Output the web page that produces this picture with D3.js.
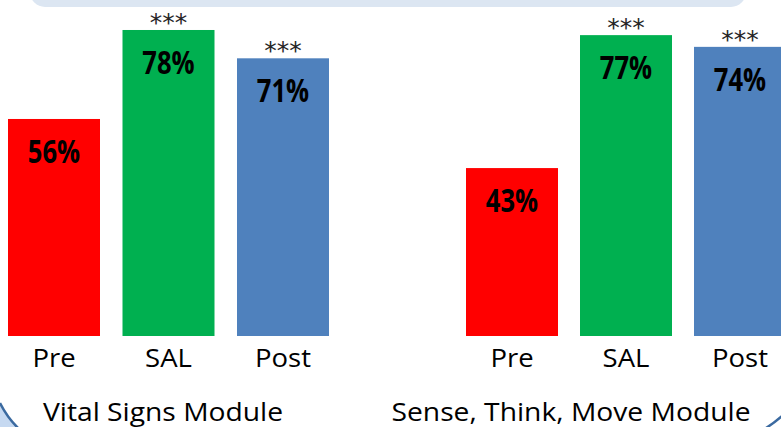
<!DOCTYPE html>
<html>
<head>
<meta charset="utf-8">
<script src="https://cdn.jsdelivr.net/npm/d3@7"></script>
<style>
  body { margin: 0; background: #fff; }
  svg { display: block; }
</style>
</head>
<body>
<div class="chart"></div>
<script>
// data
var categories = ["Pre", "SAL", "Post"];
var vitalValues = [56, 78, 71];
var senseValues = [43, 77, 74];
var sigMarks = ["", "***", "***"];
var moduleTitles = ["Vital Signs Module", "Sense, Think, Move Module"];

var colors = { "Pre": "#ff0000", "SAL": "#00b050", "Post": "#4f81bd" };

var width = 781, height = 427;
var plotBottom = 336;

// the two panels were pasted side by side, each with its own scale
var panels = [
  { values: vitalValues, title: moduleTitles[0], xRange: [8, 329], pad: 0.1965, yZero: 345.5, pxPerPct: 4.045, titleX: 163 },
  { values: senseValues, title: moduleTitles[1], xRange: [466, 786], pad: 0.193, yZero: 336.2, pxPerPct: 3.91, titleX: 571 }
];

var svg = d3.select(".chart").append("svg")
  .attr("width", width)
  .attr("height", height);

// light blue banner peeking in at the top
svg.append("rect")
  .attr("x", 30).attr("y", -30)
  .attr("width", 716).attr("height", 37)
  .attr("rx", 15)
  .attr("fill", "#dce6f2");

// corners of the outer frame
svg.append("path")
  .attr("d", "M0,403 Q7,417 18,428 L0,428 Z")
  .attr("fill", "#c6d9f1");
svg.append("path")
  .attr("d", "M0,403 Q7,417 18,428")
  .attr("fill", "none")
  .attr("stroke", "#3b6aa0")
  .attr("stroke-width", 2.5);
svg.append("path")
  .attr("d", "M766,428 Q774,423 782,416")
  .attr("fill", "none")
  .attr("stroke", "#3b6aa0")
  .attr("stroke-width", 2.5);

// plain text is a bit wider in the original, stretch it a little
function stretched(sel, sx) {
  return sel.attr("transform", function() {
    var t = d3.select(this);
    return "translate(" + t.attr("data-x") + "," + t.attr("data-y") + ") scale(" + sx + ",1)";
  });
}

panels.forEach(function(p) {
  var x = d3.scaleBand()
    .domain(categories)
    .range(p.xRange)
    .paddingInner(p.pad)
    .paddingOuter(0);

  var y = d3.scaleLinear()
    .domain([0, 80])
    .range([p.yZero, p.yZero - 80 * p.pxPerPct]);

  var rows = categories.map(function(c, i) {
    return { cat: c, value: p.values[i], sig: sigMarks[i] };
  });

  var g = svg.append("g");

  g.selectAll("rect")
    .data(rows)
    .enter()
    .append("rect")
    .attr("x", d => x(d.cat))
    .attr("y", d => y(d.value))
    .attr("width", x.bandwidth())
    .attr("height", d => Math.min(y(0), plotBottom) - y(d.value))
    .attr("fill", d => colors[d.cat]);

  // value labels inside the bars
  g.selectAll(".val")
    .data(rows)
    .enter()
    .append("text")
    .attr("class", "val")
    .attr("transform", d => "translate(" + (x(d.cat) + x.bandwidth() / 2) + "," + (y(d.value) + 44) + ") scale(0.8,1)")
    .attr("text-anchor", "middle")
    .style("font-family", "'Open Sans', sans-serif")
    .style("font-weight", "bold")
    .style("font-size", "32px")
    .attr("fill", "#000")
    .text(d => d.value + "%");

  // significance stars
  g.selectAll(".sig")
    .data(rows.filter(d => d.sig))
    .enter()
    .append("text")
    .attr("class", "sig")
    .attr("x", d => x(d.cat) + x.bandwidth() / 2)
    .attr("y", d => y(d.value) + 1)
    .attr("text-anchor", "middle")
    .style("font-family", "'DejaVu Sans', sans-serif")
    .style("font-size", "25px")
    .attr("fill", "#262626")
    .text(d => d.sig);

  // category labels
  g.selectAll(".cat")
    .data(categories)
    .enter()
    .append("text")
    .attr("class", "cat")
    .attr("data-x", d => x(d) + x.bandwidth() / 2)
    .attr("data-y", 367)
    .attr("text-anchor", "middle")
    .style("font-family", "'Open Sans', sans-serif")
    .style("font-size", "25px")
    .attr("fill", "#000")
    .text(d => d)
    .call(stretched, 1.1);

  g.append("text")
    .attr("data-x", p.titleX)
    .attr("data-y", 421)
    .attr("text-anchor", "middle")
    .style("font-family", "'Open Sans', sans-serif")
    .style("font-size", "25px")
    .attr("fill", "#000")
    .text(p.title)
    .call(stretched, 1.13);
});
</script>
</body>
</html>
